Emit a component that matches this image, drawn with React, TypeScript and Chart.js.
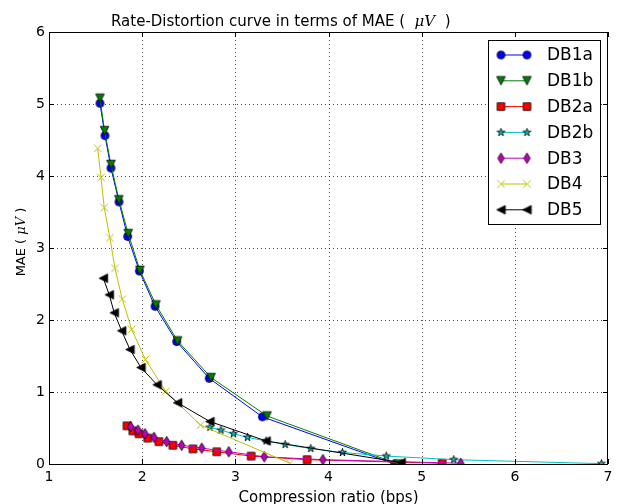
import React, { useEffect, useRef } from 'react';
import { Chart, registerables } from 'chart.js';
Chart.register(...registerables);

const FONT = "'DejaVu Sans', sans-serif";

const seriesNames = ['DB1a', 'DB1b', 'DB2a', 'DB2b', 'DB3', 'DB4', 'DB5'];

const db1aX = [1.547, 1.601, 1.665, 1.751, 1.844, 1.97, 2.138, 2.37, 2.72, 3.29, 4.71];
const db1aY = [5.01, 4.56, 4.11, 3.64, 3.16, 2.68, 2.19, 1.7, 1.19, 0.655, 0.0];

const db1bX = [1.547, 1.596, 1.665, 1.75, 1.85, 1.976, 2.148, 2.38, 2.74, 3.34, 4.745];
const db1bY = [5.08, 4.63, 4.16, 3.67, 3.2, 2.69, 2.21, 1.71, 1.2, 0.667, 0.0];

const db2aX = [1.837, 1.9, 1.966, 2.06, 2.18, 2.33, 2.545, 2.8, 3.17, 3.77, 5.22];
const db2aY = [0.53, 0.46, 0.42, 0.36, 0.31, 0.26, 0.21, 0.17, 0.11, 0.06, 0.01];

const db2bX = [2.727, 2.845, 2.98, 3.13, 3.33, 3.535, 3.81, 4.15, 4.62, 5.345, 6.93];
const db2bY = [0.51, 0.47, 0.42, 0.37, 0.32, 0.27, 0.215, 0.16, 0.11, 0.06, 0.005];

const db3X = [1.877, 1.955, 2.03, 2.127, 2.263, 2.424, 2.64, 2.93, 3.31, 3.94, 5.42];
const db3Y = [0.52, 0.47, 0.42, 0.37, 0.31, 0.26, 0.22, 0.17, 0.1, 0.06, 0.01];

const db4X = [1.523, 1.558, 1.593, 1.654, 1.708, 1.786, 1.887, 2.035, 2.253, 2.626, 3.586];
const db4Y = [4.385, 3.98, 3.56, 3.14, 2.72, 2.29, 1.87, 1.45, 1.01, 0.54, 0.01];

const db5X = [1.583, 1.647, 1.7, 1.78, 1.869, 1.987, 2.16, 2.38, 2.727, 3.33, 4.78];
const db5Y = [2.58, 2.35, 2.1, 1.85, 1.59, 1.34, 1.1, 0.85, 0.59, 0.32, 0.02];

const seriesX = [db1aX, db1bX, db2aX, db2bX, db3X, db4X, db5X];
const seriesY = [db1aY, db1bY, db2aY, db2bY, db3Y, db4Y, db5Y];

const xTicks = [1, 2, 3, 4, 5, 6, 7];
const yTicks = [0, 1, 2, 3, 4, 5, 6];

const titleParts = [
  { text: 'Rate-Distortion curve in terms of MAE (  ', italic: false },
  { text: 'μV', italic: true },
  { text: '  )', italic: false },
];
const yLabelParts = [
  { text: 'MAE ( ', italic: false },
  { text: 'μV', italic: true },
  { text: ' )', italic: false },
];
const xLabel = 'Compression ratio (bps)';

// styling
const colors = ['#0000ff', '#008000', '#ff0000', '#00bfbf', '#bf00bf', '#bfbf00', '#000000'];
const markerKinds = ['circle', 'tdown', 'square', 'star', 'thin_diamond', 'x', 'tleft'];

function makeMarker(kind: string, fill: string): HTMLCanvasElement {
  const s = 15;
  const c = document.createElement('canvas');
  c.width = s;
  c.height = s;
  const g = c.getContext('2d')!;
  const m = s / 2;
  g.lineWidth = 0.8;
  g.strokeStyle = '#000';
  g.fillStyle = fill;
  g.lineJoin = 'miter';
  g.beginPath();
  if (kind === 'circle') {
    g.arc(m, m, 4, 0, Math.PI * 2);
  } else if (kind === 'tdown') {
    const h = 4.3;
    g.moveTo(m - h, m - h);
    g.lineTo(m + h, m - h);
    g.lineTo(m, m + h);
    g.closePath();
  } else if (kind === 'tleft') {
    const h = 4.3;
    g.moveTo(m - h, m);
    g.lineTo(m + h, m - h);
    g.lineTo(m + h, m + h);
    g.closePath();
  } else if (kind === 'square') {
    g.rect(m - 3.8, m - 3.8, 7.6, 7.6);
  } else if (kind === 'star') {
    const R = 4.2;
    const r = R * 0.381966;
    for (let i = 0; i < 10; i++) {
      const a = -Math.PI / 2 + (i * Math.PI) / 5;
      const rr = i % 2 === 0 ? R : r;
      const px = m + rr * Math.cos(a);
      const py = m + rr * Math.sin(a);
      if (i === 0) g.moveTo(px, py);
      else g.lineTo(px, py);
    }
    g.closePath();
  } else if (kind === 'thin_diamond') {
    g.moveTo(m, m - 5.3);
    g.lineTo(m + 3.2, m);
    g.lineTo(m, m + 5.3);
    g.lineTo(m - 3.2, m);
    g.closePath();
  } else if (kind === 'x') {
    const h = 3.8;
    g.moveTo(m - h, m - h);
    g.lineTo(m + h, m + h);
    g.moveTo(m - h, m + h);
    g.lineTo(m + h, m - h);
    g.strokeStyle = fill;
    g.lineWidth = 1;
    g.stroke();
    return c;
  }
  g.fill();
  g.stroke();
  return c;
}

function drawParts(ctx: CanvasRenderingContext2D, parts: { text: string; italic: boolean }[], size: number, x: number, y: number, align: 'left' | 'center') {
  const fontFor = (p: { italic: boolean }) =>
    p.italic ? `italic ${size}px 'DejaVu Serif', serif` : `${size}px ${FONT}`;
  let total = 0;
  const widths = parts.map((p) => {
    ctx.font = fontFor(p);
    const w = ctx.measureText(p.text).width;
    total += w;
    return w;
  });
  let cx = align === 'center' ? x - total / 2 : x;
  ctx.textAlign = 'left';
  ctx.textBaseline = 'alphabetic';
  parts.forEach((p, i) => {
    ctx.font = fontFor(p);
    ctx.fillText(p.text, cx, y);
    cx += widths[i];
  });
}

export default function App() {
  const ref = useRef<HTMLCanvasElement | null>(null);

  useEffect(() => {
    if (!ref.current) return;
    const markerImgs = markerKinds.map((k, i) => makeMarker(k, colors[i]));

    const frame = {
      id: 'mplFrame',
      beforeDatasetsDraw(chart: any) {
        const { ctx, chartArea } = chart;
        const xs = chart.scales.x;
        const ys = chart.scales.y;
        ctx.save();
        ctx.strokeStyle = 'rgba(0,0,0,0.7)';
        ctx.lineWidth = 1;
        ctx.setLineDash([1, 3]);
        xTicks.forEach((t) => {
          const px = Math.round(xs.getPixelForValue(t)) + 0.5;
          if (px <= chartArea.left + 1 || px >= chartArea.right - 1) return;
          ctx.beginPath();
          ctx.moveTo(px, chartArea.top);
          ctx.lineTo(px, chartArea.bottom);
          ctx.stroke();
        });
        yTicks.forEach((t) => {
          const py = Math.round(ys.getPixelForValue(t)) + 0.5;
          if (py <= chartArea.top + 1 || py >= chartArea.bottom - 1) return;
          ctx.beginPath();
          ctx.moveTo(chartArea.left, py);
          ctx.lineTo(chartArea.right, py);
          ctx.stroke();
        });
        ctx.restore();
      },
      afterDraw(chart: any) {
        const { ctx, chartArea } = chart;
        const xs = chart.scales.x;
        const ys = chart.scales.y;
        const L = chartArea.left, R = chartArea.right, T = chartArea.top, B = chartArea.bottom;
        ctx.save();
        ctx.setLineDash([]);
        ctx.strokeStyle = '#000';
        ctx.lineWidth = 1;
        ctx.strokeRect(L + 0.5, T + 0.5, R - L - 1, B - T);
        const tl = 5;
        ctx.beginPath();
        xTicks.forEach((t) => {
          const px = Math.round(xs.getPixelForValue(t)) + 0.5;
          ctx.moveTo(px, B);
          ctx.lineTo(px, B - tl);
          ctx.moveTo(px, T);
          ctx.lineTo(px, T + tl);
        });
        yTicks.forEach((t) => {
          const py = Math.round(ys.getPixelForValue(t)) + 0.5;
          ctx.moveTo(L, py);
          ctx.lineTo(L + tl, py);
          ctx.moveTo(R, py);
          ctx.lineTo(R - tl, py);
        });
        ctx.stroke();

        // legend
        const lx = R - 120, ly = T + 8, lw = 112, lh = 184;
        ctx.fillStyle = '#fff';
        ctx.fillRect(lx, ly, lw, lh);
        ctx.strokeStyle = '#000';
        ctx.strokeRect(lx + 0.5, ly + 0.5, lw, lh);
        seriesNames.forEach((name, i) => {
          const ey = ly + 15 + i * 25.8;
          const x1 = lx + 13, x2 = lx + 39;
          ctx.strokeStyle = colors[i];
          ctx.lineWidth = 1;
          ctx.beginPath();
          ctx.moveTo(x1, ey);
          ctx.lineTo(x2, ey);
          ctx.stroke();
          const img = markerImgs[i];
          ctx.drawImage(img, x1 - img.width / 2, ey - img.height / 2);
          ctx.drawImage(img, x2 - img.width / 2, ey - img.height / 2);
          ctx.fillStyle = '#000';
          ctx.font = `17px ${FONT}`;
          ctx.textAlign = 'left';
          ctx.textBaseline = 'middle';
          ctx.fillText(name, lx + 59, ey + 1);
        });

        // titles
        ctx.fillStyle = '#000';
        drawParts(ctx, titleParts, 15, L + 62, 26, 'left');
        ctx.textAlign = 'center';
        ctx.textBaseline = 'alphabetic';
        ctx.font = `15px ${FONT}`;
        ctx.fillText(xLabel, (L + R) / 2, 502);
        ctx.save();
        ctx.translate(20, (T + B) / 2 - 6);
        ctx.rotate(-Math.PI / 2);
        drawParts(ctx, yLabelParts, 13, 0, 5, 'center');
        ctx.restore();
        ctx.restore();
      },
    };

    const chart = new Chart(ref.current, {
      type: 'line',
      data: {
        datasets: seriesNames.map((name, i) => ({
          label: name,
          data: seriesX[i].map((x, j) => ({ x, y: seriesY[i][j] })),
          borderColor: colors[i],
          backgroundColor: colors[i],
          borderWidth: 1,
          pointStyle: markerImgs[i] as any,
          pointRadius: 5,
          pointHoverRadius: 5,
          fill: false,
          tension: 0,
          clip: 0 as any,
          order: seriesNames.length - 1 - i,
        })),
      },
      options: {
        animation: false,
        responsive: false,
        events: [],
        layout: { padding: { top: 32, right: 10, left: 0, bottom: 0 } },
        plugins: {
          legend: { display: false },
          title: { display: false },
          tooltip: { enabled: false },
        },
        scales: {
          x: {
            type: 'linear',
            min: 1,
            max: 7,
            afterFit: (s: any) => { s.height = 40; },
            afterBuildTicks: (s: any) => { s.ticks = xTicks.map((v) => ({ value: v })); },
            grid: { display: false, drawTicks: false },
            border: { display: false },
            ticks: {
              color: '#000',
              font: { family: FONT, size: 14 },
              padding: 5,
              maxRotation: 0,
              autoSkip: false,
              callback: (v: any) => String(v),
            },
          },
          y: {
            type: 'linear',
            min: 0,
            max: 6,
            afterFit: (s: any) => { s.width = 49; },
            afterBuildTicks: (s: any) => { s.ticks = yTicks.map((v) => ({ value: v })); },
            grid: { display: false, drawTicks: false },
            border: { display: false },
            ticks: {
              color: '#000',
              font: { family: FONT, size: 14 },
              padding: 4,
              autoSkip: false,
              callback: (v: any) => String(v),
            },
          },
        },
      },
      plugins: [frame],
    } as any);
    return () => chart.destroy();
  }, []);

  return (
    <div style={{ position: 'fixed', left: 0, top: 0, width: 618, height: 504, background: '#fff' }}>
      <canvas ref={ref} width={618} height={504} style={{ width: 618, height: 504, display: 'block' }} />
    </div>
  );
}
